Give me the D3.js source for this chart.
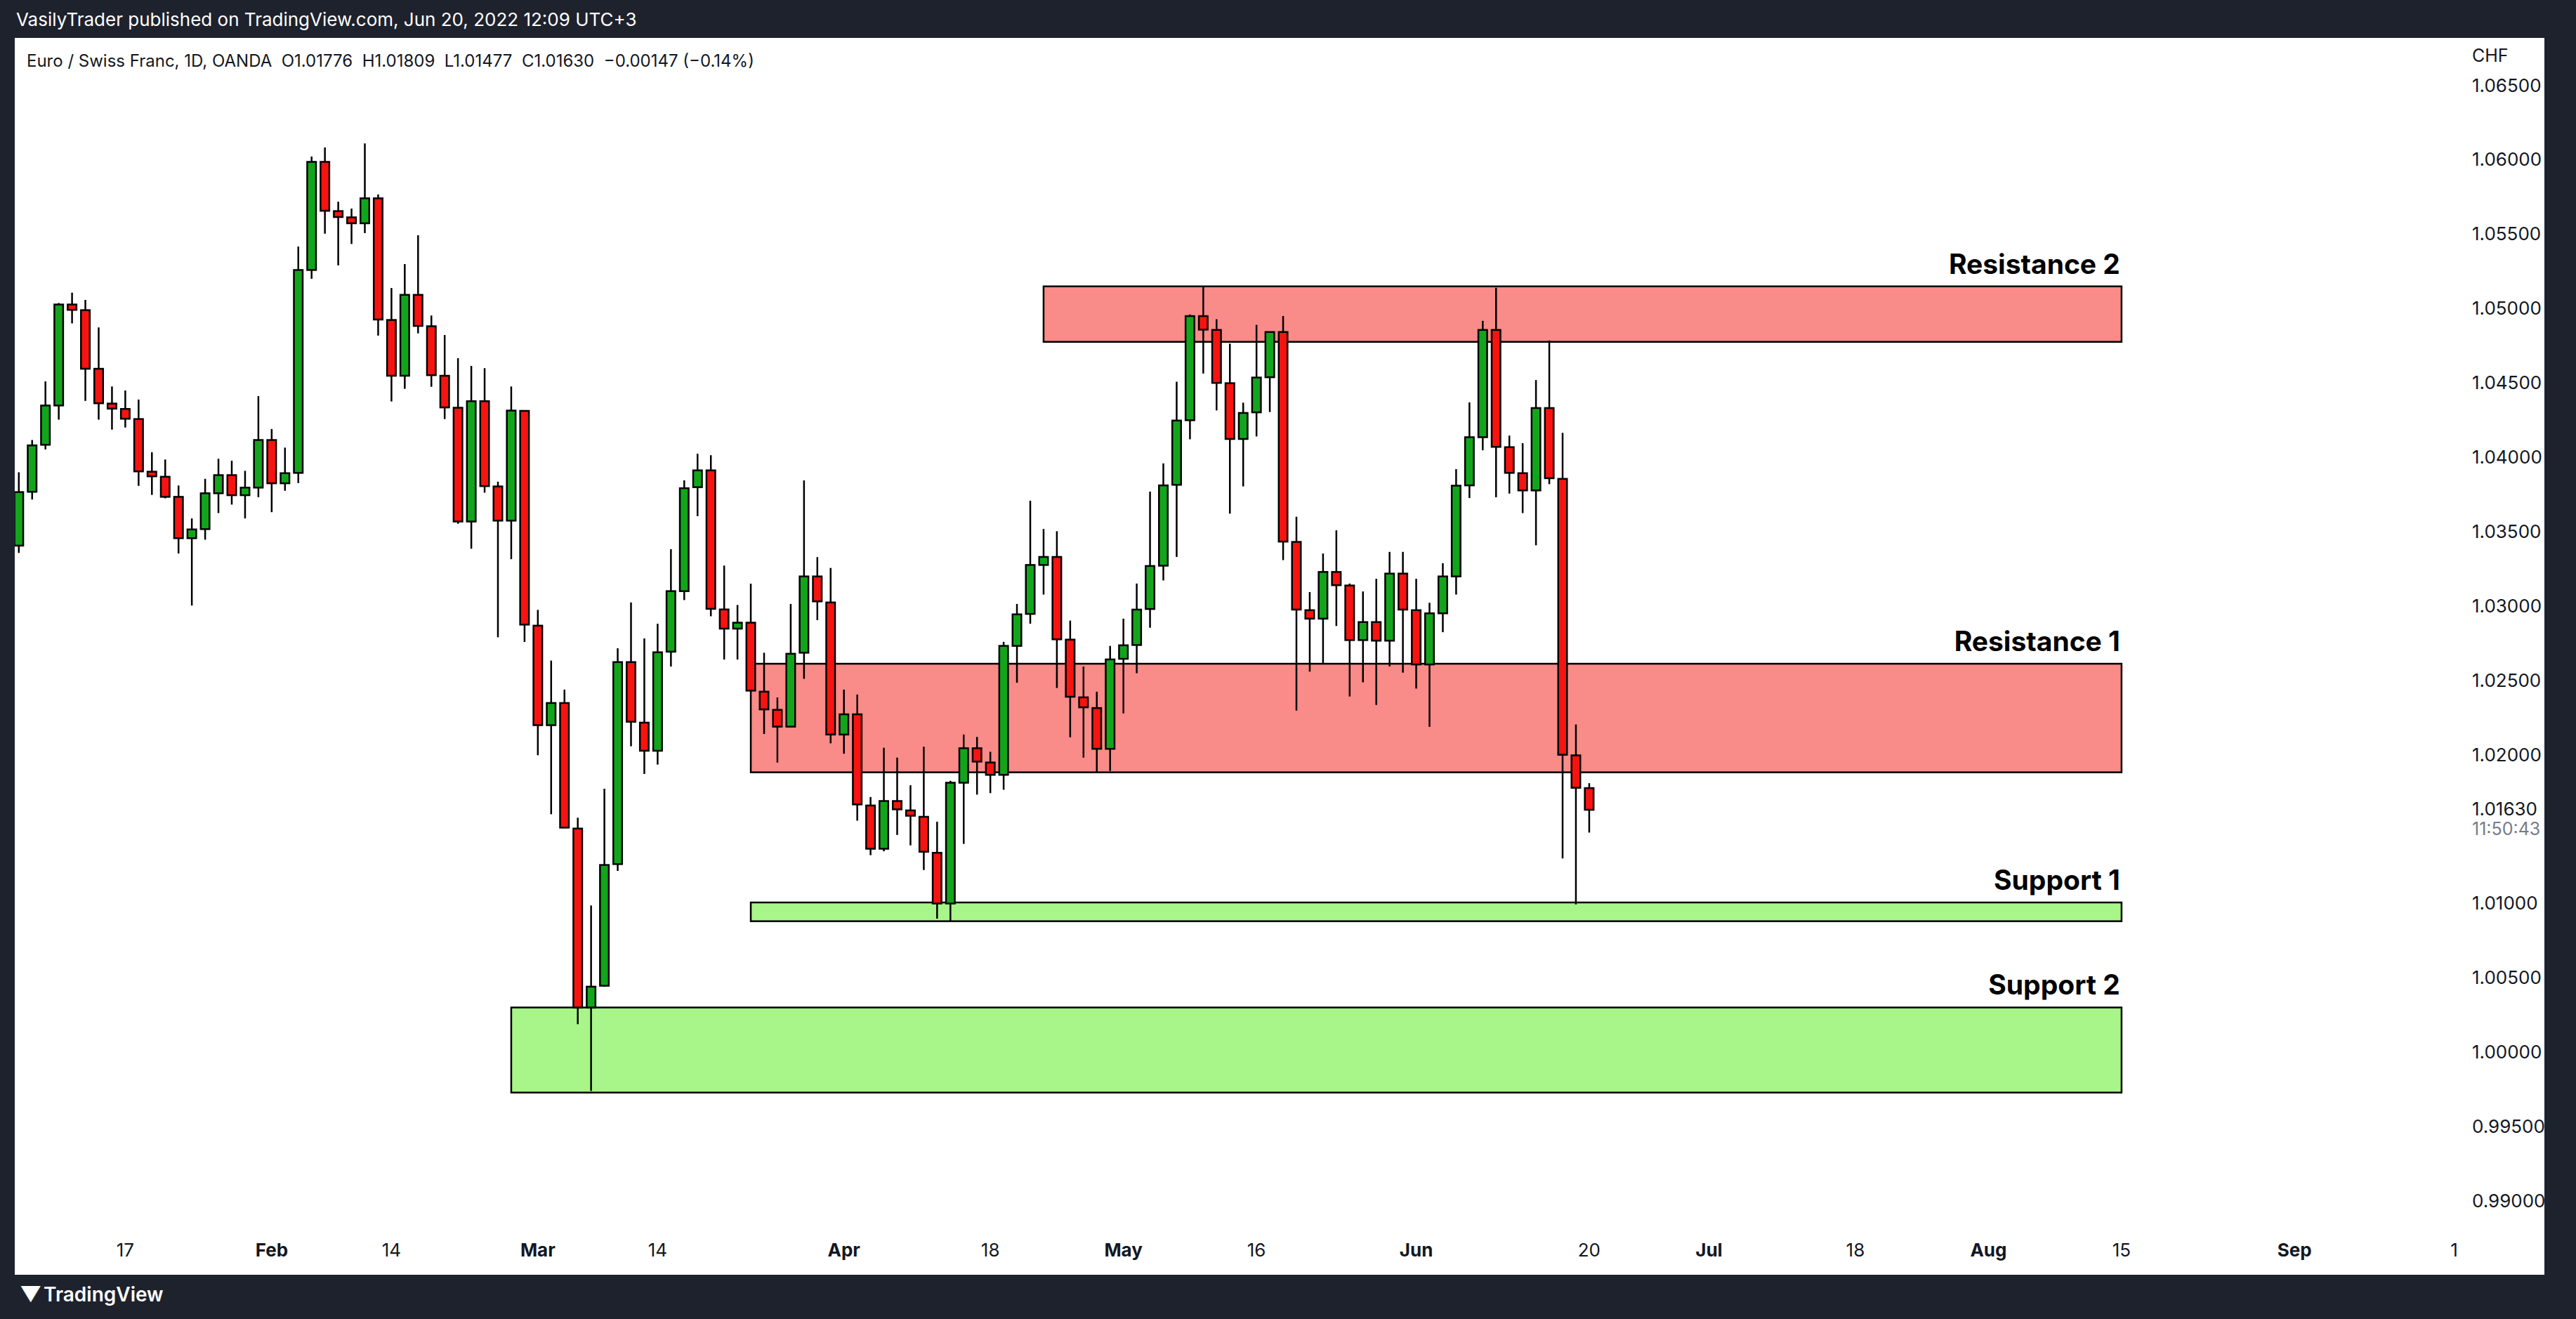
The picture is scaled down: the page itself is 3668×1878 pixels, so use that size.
<!DOCTYPE html>
<html>
<head>
<meta charset="utf-8">
<script src="https://cdn.jsdelivr.net/npm/d3@7"></script>
<style>
  body { margin: 0; background: #1e222d; }
  svg { display: block; font-family: Inter, "Noto Sans", sans-serif; }
  text { white-space: pre; }
</style>
</head>
<body>
<svg id="chart" width="3668" height="1878"></svg>
<script>
// daily EURCHF candles, Jan 5 .. Jun 20 2022 (trading-day index)
var opens = [1.03406,1.03768,1.04084,1.04348,1.05027,1.04989,1.04595,1.04361,1.04325,1.04257,
  1.03903,1.03869,1.03734,1.03456,1.03517,1.03758,1.03880,1.03745,1.03796,1.04116,
  1.03825,1.03895,1.05259,1.05986,1.05655,1.05613,1.05573,1.05741,1.04923,1.04548,
  1.05092,1.04881,1.04548,1.04333,1.03568,1.04377,1.03804,1.03574,1.04312,1.02868,
  1.02199,1.02348,1.01504,1.00301,1.00447,1.01265,1.02623,1.02216,1.02027,1.02693,
  1.03100,1.03799,1.03912,1.02977,1.02848,1.02888,1.02424,1.02302,1.02189,1.02686,
  1.03199,1.03024,1.02136,1.02272,1.01659,1.01368,1.01689,1.01626,1.01583,1.01341,
  1.01000,1.01812,1.02044,1.01948,1.01865,1.02732,1.02947,1.03276,1.03330,1.02774,
  1.02386,1.02314,1.02040,1.02645,1.02738,1.02980,1.03271,1.03815,1.04249,1.04949,
  1.04856,1.04498,1.04123,1.04302,1.04538,1.04842,1.03431,1.02972,1.02915,1.03229,
  1.03138,1.02771,1.02892,1.02767,1.03218,1.02972,1.02607,1.02951,1.03199,1.03811,
  1.04135,1.04856,1.04068,1.03893,1.03777,1.04331,1.03855,1.01996,1.01776];
var highs = [1.03899,1.04116,1.04510,1.05037,1.05107,1.05058,1.04873,1.04476,1.04449,1.04388,
  1.04034,1.03985,1.03810,1.03589,1.03855,1.03990,1.03977,1.03909,1.04411,1.04190,
  1.04065,1.05417,1.06022,1.06083,1.05718,1.05672,1.06110,1.05767,1.05138,1.05299,
  1.05493,1.04953,1.04822,1.04666,1.04614,1.04599,1.03836,1.04476,1.04312,1.02974,
  1.02633,1.02438,1.01577,1.00987,1.01772,1.02716,1.03024,1.02782,1.02881,1.03382,
  1.03845,1.04024,1.04014,1.03272,1.03007,1.03150,1.02686,1.02385,1.03014,1.03845,
  1.03329,1.03256,1.02438,1.02405,1.01716,1.02047,1.01981,1.01795,1.02054,1.01550,
  1.01825,1.02136,1.02120,1.02020,1.02759,1.03014,1.03708,1.03518,1.03503,1.02902,
  1.02593,1.02424,1.02732,1.02915,1.03151,1.03769,1.03959,1.04508,1.04960,1.05149,
  1.04928,1.04764,1.04367,1.04890,1.04842,1.04949,1.03600,1.03094,1.03353,1.03509,
  1.03151,1.03098,1.03183,1.03364,1.03364,1.03183,1.03022,1.03288,1.03920,1.04369,
  1.04917,1.05139,1.04146,1.04095,1.04519,1.04785,1.04164,1.02204,1.01809];
var lows = [1.03357,1.03716,1.04053,1.04253,1.04900,1.04379,1.04253,1.04186,1.04200,1.03808,
  1.03747,1.03724,1.03353,1.03003,1.03446,1.03625,1.03682,1.03589,1.03732,1.03631,
  1.03775,1.03827,1.05200,1.05503,1.05290,1.05434,1.05507,1.04818,1.04375,1.04460,
  1.04833,1.04474,1.04257,1.03553,1.03385,1.03762,1.02790,1.03315,1.02759,1.01997,
  1.01600,1.01510,1.00189,0.99740,1.00441,1.01219,1.02057,1.01871,1.01934,1.02593,
  1.03040,1.03604,1.02931,1.02640,1.02640,1.02431,1.02140,1.01948,1.02189,1.02511,
  1.02905,1.02077,1.02007,1.01557,1.01325,1.01351,1.01461,1.01391,1.01225,1.00898,
  1.00881,1.01401,1.01732,1.01742,1.01765,1.02484,1.02881,1.03077,1.02449,1.02118,
  1.01981,1.01884,1.01891,1.02278,1.02548,1.02854,1.03172,1.03330,1.04121,1.04563,
  1.04315,1.03621,1.03804,1.04140,1.04304,1.03309,1.02297,1.02559,1.02613,1.02866,
  1.02392,1.02487,1.02335,1.02594,1.02552,1.02445,1.02188,1.02824,1.03077,1.03726,
  1.04047,1.03731,1.03756,1.03625,1.03408,1.03819,1.01303,1.00994,1.01477];
var closes = [1.03766,1.04080,1.04348,1.05027,1.04991,1.04595,1.04363,1.04327,1.04259,1.03905,
  1.03872,1.03734,1.03456,1.03515,1.03758,1.03880,1.03745,1.03796,1.04116,1.03825,
  1.03893,1.05259,1.05986,1.05657,1.05615,1.05573,1.05741,1.04926,1.04548,1.05092,
  1.04883,1.04552,1.04335,1.03568,1.04377,1.03806,1.03574,1.04314,1.02875,1.02199,
  1.02348,1.01510,1.00301,1.00441,1.01259,1.02623,1.02222,1.02027,1.02689,1.03100,
  1.03792,1.03912,1.02981,1.02848,1.02888,1.02431,1.02305,1.02189,1.02679,1.03199,
  1.03031,1.02136,1.02272,1.01666,1.01368,1.01689,1.01633,1.01590,1.01348,1.01000,
  1.01812,1.02044,1.01954,1.01865,1.02732,1.02944,1.03276,1.03330,1.02776,1.02390,
  1.02319,1.02040,1.02641,1.02736,1.02976,1.03269,1.03811,1.04247,1.04949,1.04858,
  1.04500,1.04123,1.04298,1.04536,1.04842,1.03433,1.02976,1.02915,1.03229,1.03140,
  1.02771,1.02892,1.02767,1.03218,1.02976,1.02607,1.02951,1.03199,1.03809,1.04135,
  1.04856,1.04070,1.03895,1.03777,1.04331,1.03859,1.02000,1.01778,1.01630];

// time axis labels at trading-day index
var tickIndex = [8, 19, 28, 39, 48, 62, 73, 83, 93, 105, 118, 127, 138, 148, 158, 171, 183];
var tickLabels = ["17","Feb","14","Mar","14","Apr","18","May","16","Jun","20","Jul","18","Aug","15","Sep","1"];
var monthLabels = ["Feb","Mar","Apr","May","Jun","Jul","Aug","Sep"];

var priceTicks = [1.065,1.06,1.055,1.05,1.045,1.04,1.035,1.03,1.025,1.02,1.01,1.005,1.0,0.995,0.99];

// zones: name, start index, end index, top, bottom
var zoneNames = ["Resistance 2","Resistance 1","Support 1","Support 2"];
var zoneStart = [77, 55, 55, 37];
var zoneEnd = [158, 158, 158, 158];
var zoneTop = [1.05149, 1.02612, 1.01007, 1.00301];
var zoneBottom = [1.04776, 1.01882, 1.00881, 0.99729];
var zoneKind = ["res","res","sup","sup"];

var svg = d3.select('#chart');
var W = 3668, H = 1878;
var plotL = 21, plotR = 3623, plotT = 54, plotB = 1815, axisX = 3508;

var x = d3.scaleLinear().domain([0, 118]).range([26.8, 2262.9]);
var y = d3.scaleLinear().domain([0.99, 1.065]).range([1710, 121.6]);

svg.append('rect').attr('width', W).attr('height', H).attr('fill', '#1e222d');
svg.append('rect').attr('x', plotL).attr('y', plotT).attr('width', plotR - plotL).attr('height', plotB - plotT).attr('fill', '#ffffff');

svg.append('defs').append('clipPath').attr('id', 'plotclip')
  .append('rect').attr('x', plotL).attr('y', plotT).attr('width', axisX - plotL).attr('height', plotB - plotT);

var plot = svg.append('g').attr('clip-path', 'url(#plotclip)');

// zones
var zones = zoneNames.map(function(n, i) {
  return {name: n, s: zoneStart[i], e: zoneEnd[i], top: zoneTop[i], bot: zoneBottom[i], kind: zoneKind[i]};
});
plot.selectAll('rect.zone').data(zones).enter().append('rect')
  .attr('class', 'zone')
  .attr('x', function(d) { return x(d.s); })
  .attr('width', function(d) { return x(d.e) - x(d.s); })
  .attr('y', function(d) { return y(d.top); })
  .attr('height', function(d) { return y(d.bot) - y(d.top); })
  .attr('fill', function(d) { return d.kind == 'res' ? '#f98b88' : '#a8f58a'; })
  .attr('stroke', '#000').attr('stroke-width', 2.5);

plot.selectAll('text.zone').data(zones).enter().append('text')
  .attr('x', function(d) { return x(d.e) - 2; })
  .attr('y', function(d) { return y(d.top) - 18; })
  .attr('text-anchor', 'end')
  .attr('font-size', 39).attr('font-weight', 700).attr('fill', '#000')
  .text(function(d) { return d.name; });

// candles
var candles = opens.map(function(o, i) {
  return {i: i, o: o, h: highs[i], l: lows[i], c: closes[i]};
});
var bw = 12.5;
var cg = plot.selectAll('g.candle').data(candles).enter().append('g').attr('class', 'candle');
cg.append('line')
  .attr('x1', function(d) { return x(d.i); }).attr('x2', function(d) { return x(d.i); })
  .attr('y1', function(d) { return y(d.h); }).attr('y2', function(d) { return y(d.l); })
  .attr('stroke', '#000').attr('stroke-width', 2.5);
cg.append('rect')
  .attr('x', function(d) { return x(d.i) - bw / 2; })
  .attr('width', bw)
  .attr('y', function(d) { return y(Math.max(d.o, d.c)); })
  .attr('height', function(d) { return Math.max(1.5, Math.abs(y(d.o) - y(d.c))); })
  .attr('fill', function(d) { return d.c >= d.o ? '#12a51c' : '#f7130f'; })
  .attr('stroke', '#000').attr('stroke-width', 2.5);

// time axis
plot.selectAll('text.tick').data(tickIndex).enter().append('text')
  .attr('x', function(d) { return x(d); })
  .attr('y', 1789)
  .attr('text-anchor', 'middle')
  .attr('font-size', 26)
  .attr('font-weight', function(d, i) { return monthLabels.indexOf(tickLabels[i]) >= 0 ? 700 : 400; })
  .attr('fill', '#131722')
  .text(function(d, i) { return tickLabels[i]; });

// price axis
svg.append('text').attr('x', 3520).attr('y', 88).attr('font-size', 25).attr('fill', '#131722').text('CHF');
svg.selectAll('text.price').data(priceTicks).enter().append('text')
  .attr('x', 3520).attr('y', function(d) { return y(d) + 9; })
  .attr('font-size', 26).attr('fill', '#131722')
  .text(function(d) { return d.toFixed(5); });
var last = closes[closes.length - 1];
svg.append('text').attr('x', 3520).attr('y', y(last) + 8).attr('font-size', 26).attr('fill', '#131722').text(last.toFixed(5));
svg.append('text').attr('x', 3520).attr('y', y(last) + 36).attr('font-size', 25).attr('fill', '#787b86').text('11:50:43');

// header
svg.append('text').attr('x', 23).attr('y', 37).attr('font-size', 26).attr('fill', '#ffffff')
  .text('VasilyTrader published on TradingView.com, Jun 20, 2022 12:09 UTC+3');
svg.append('text').attr('x', 38).attr('y', 95).attr('font-size', 24).attr('fill', '#131722')
  .text('Euro / Swiss Franc, 1D, OANDA  O1.01776  H1.01809  L1.01477  C1.01630  \u22120.00147 (\u22120.14%)');

// footer logo
svg.append('text').attr('x', 28).attr('y', 1853).attr('font-size', 30).attr('font-weight', 700).attr('fill', '#ffffff').text('\u25BC');
svg.append('text').attr('x', 62).attr('y', 1853).attr('font-size', 28).attr('font-weight', 600).attr('fill', '#ffffff').text('TradingView');
</script>
</body>
</html>
